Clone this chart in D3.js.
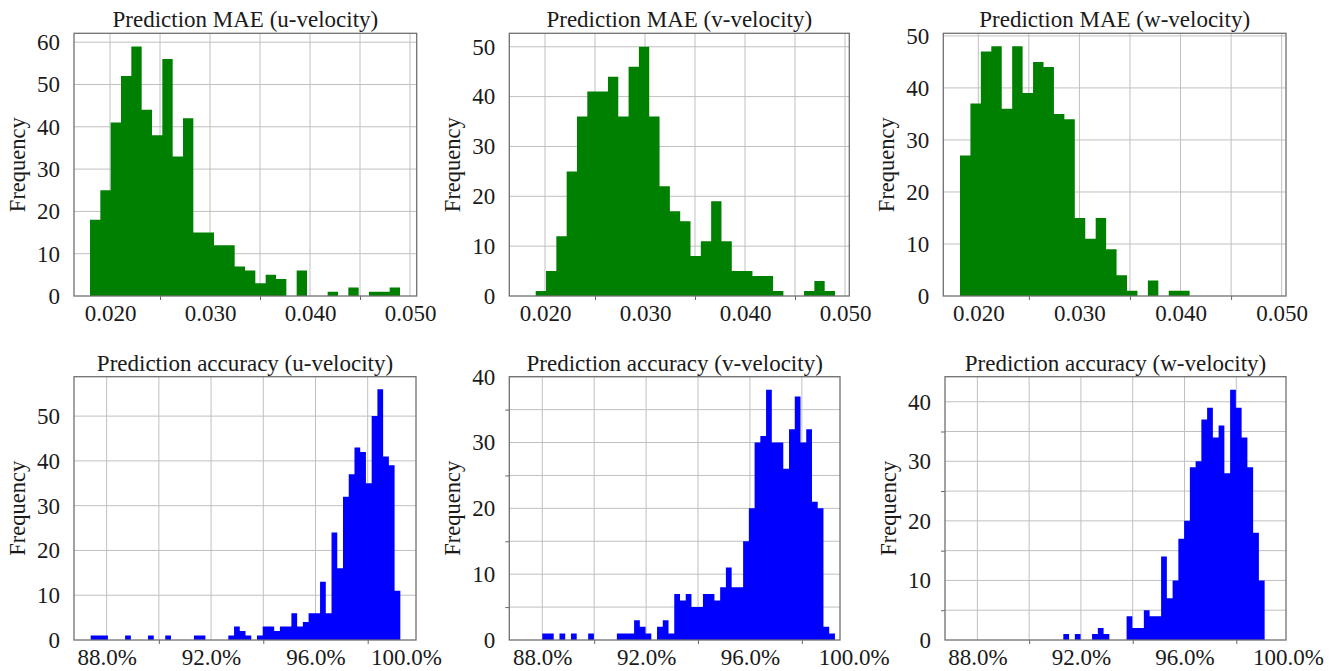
<!DOCTYPE html>
<html>
<head>
<meta charset="utf-8">
<script src="https://cdn.jsdelivr.net/npm/d3@7/dist/d3.min.js"></script>
<style>
  body { margin: 0; background: #fff; }
  text { font-family: "Liberation Serif", "Times New Roman", serif; fill: #1a1a1a; }
</style>
</head>
<body>
<svg id="chart" width="1340" height="671"></svg>
<script>
// Histogram counts (one value per bin)
const maeU = [18, 25, 41, 52, 59, 44, 38, 56, 33, 42, 15, 15, 12, 12, 7, 6, 3, 5, 4, 0, 6, 0, 0, 1, 0, 2, 0, 1, 1, 2];
const maeV = [1, 5, 12, 25, 36, 41, 41, 44, 36, 46, 50, 36, 22, 17, 15, 8, 11, 19, 11, 5, 5, 4, 4, 1, 0, 0, 1, 3, 1];
const maeW = [27, 37, 47, 48, 36, 48, 39, 45, 44, 35, 34, 15, 11, 15, 9, 4, 1, 0, 3, 0, 1, 1];
const accU = [1, 1, 1, 0, 0, 0, 1, 0, 0, 0, 1, 0, 0, 1, 0, 0, 0, 0, 1, 1, 0, 0, 0, 0, 1, 3, 2, 1, 0, 1,
              3, 3, 2, 3, 3, 6, 3, 4, 6, 6, 13, 6, 24, 16, 32, 37, 43, 42, 35, 50, 56, 41, 39, 11];
const accV = [1, 1, 0, 1, 0, 1, 0, 0, 1, 0, 0, 0, 0, 1, 1, 1, 3, 2, 1, 0, 2, 3, 1, 7, 6, 7, 5, 5, 7, 7,
              6, 8, 11, 8, 8, 15, 20, 30, 31, 38, 30, 30, 26, 32, 37, 30, 32, 21, 20, 2, 1];
const accW = [1, 0, 1, 0, 0, 1, 2, 1, 0, 0, 0, 4, 2, 2, 5, 4, 4, 14, 7, 10, 17, 20, 29, 30, 37, 39, 34, 36, 28, 42,
              39, 34, 29, 18, 10];

// first and last bin edge of each histogram
const maeUBins = [0.0180, 0.0490];
const maeVBins = [0.01907, 0.0490];
const maeWBins = [0.01819, 0.0409];
const accUBins = [87.39, 99.25];
const accVBins = [88.0, 99.275];
const accWBins = [91.32, 99.095];

// tick labels and grid positions
const maeTicks = [0.020, 0.030, 0.040, 0.050];
const maeGrid = [0.020, 0.025, 0.030, 0.035, 0.040, 0.045, 0.050];
const accTicks = [88, 92, 96, 100];
const accGrid = [88, 90, 92, 94, 96, 98, 100];
const yTicks60 = [0, 10, 20, 30, 40, 50, 60];
const yTicks50 = [0, 10, 20, 30, 40, 50];
const yTicks40 = [0, 10, 20, 30, 40];
const yFives = [5, 15, 25, 35];

const fmtMae = d3.format(".3f");
const fmtAcc = d => d.toFixed(1) + "%";

const GREEN = "#008000", BLUE = "#0000ff";

// layout of each panel: frame box [left, top, right, bottom], axis limits
const panels = [
  { title: "Prediction MAE (u-velocity)", counts: maeU, bins: maeUBins, box: [74, 33.3, 416.7, 296],
    xDom: [0.0164, 0.05067], yMax: 62.1, xTicks: maeTicks, xGrid: maeGrid, yTicks: yTicks60, yMinor: [], fmt: fmtMae, color: GREEN },
  { title: "Prediction MAE (v-velocity)", counts: maeV, bins: maeVBins, box: [509.3, 33.3, 849.3, 296],
    xDom: [0.01643, 0.05043], yMax: 52.7, xTicks: maeTicks, xGrid: maeGrid, yTicks: yTicks50, yMinor: [], fmt: fmtMae, color: GREEN },
  { title: "Prediction MAE (w-velocity)", counts: maeW, bins: maeWBins, box: [943.3, 33.3, 1286, 296],
    xDom: [0.01654, 0.05043], yMax: 50.5, xTicks: maeTicks, xGrid: maeGrid, yTicks: yTicks50, yMinor: [], fmt: fmtMae, color: GREEN },
  { title: "Prediction accuracy (u-velocity)", counts: accU, bins: accUBins, box: [74, 376.7, 416, 640],
    xDom: [86.75, 99.85], yMax: 58.8, xTicks: accTicks, xGrid: accGrid, yTicks: yTicks50, yMinor: [], fmt: fmtAcc, color: BLUE, lastDx: -14 },
  { title: "Prediction accuracy (v-velocity)", counts: accV, bins: accVBins, box: [509.3, 376.7, 840, 640],
    xDom: [86.73, 99.47], yMax: 40.0, xTicks: accTicks, xGrid: accGrid, yTicks: yTicks40, yMinor: yFives, fmt: fmtAcc, color: BLUE },
  { title: "Prediction accuracy (w-velocity)", counts: accW, bins: accWBins, box: [945, 376.7, 1286, 640],
    xDom: [86.75, 99.92], yMax: 44.2, xTicks: accTicks, xGrid: accGrid, yTicks: yTicks40, yMinor: yFives, fmt: fmtAcc, color: BLUE }
];

const svg = d3.select("#chart");

function drawHist(p) {
  const [left, top, right, bottom] = p.box;
  const w = right - left, h = bottom - top;
  const g = svg.append("g").attr("transform", `translate(${left},${top})`);

  const x = d3.scaleLinear().domain(p.xDom).range([0, w]);
  const y = d3.scaleLinear().domain([0, p.yMax]).range([h, 0]);

  const inX = v => v >= p.xDom[0] && v <= p.xDom[1];

  // grid lines
  const yGridVals = p.yTicks.concat(p.yMinor).filter(v => v > 0 && v <= p.yMax);
  g.append("g").attr("class", "grid")
    .selectAll("line.gx").data(p.xGrid.filter(inX)).join("line")
    .attr("x1", d => x(d)).attr("x2", d => x(d))
    .attr("y1", 0).attr("y2", h);
  g.append("g").attr("class", "grid")
    .selectAll("line.gy").data(yGridVals).join("line")
    .attr("x1", 0).attr("x2", w)
    .attr("y1", d => y(d)).attr("y2", d => y(d));
  g.selectAll(".grid line").attr("stroke", "#c0c0c0").attr("stroke-width", 1);

  // bars, drawn as one stepped shape so no seams show between bins
  const n = p.counts.length;
  const step = (p.bins[1] - p.bins[0]) / n;
  const bins = p.counts.map((c, i) => ({ x0: p.bins[0] + i * step, c }));
  bins.push({ x0: p.bins[1], c: p.counts[n - 1] });
  const area = d3.area()
    .curve(d3.curveStepAfter)
    .x(d => x(d.x0))
    .y0(h)
    .y1(d => y(d.c));
  g.append("path").datum(bins)
    .attr("d", area)
    .attr("fill", p.color);

  // minor tick marks
  const xMinor = p.xGrid.filter(v => inX(v) && !p.xTicks.includes(v));
  g.append("g").attr("transform", `translate(0,${h})`)
    .call(d3.axisBottom(x).tickValues(xMinor).tickSize(4).tickFormat(""))
    .call(a => a.select(".domain").remove())
    .selectAll("line").attr("stroke", "#666");
  if (p.yMinor.length) {
    g.append("g")
      .call(d3.axisLeft(y).tickValues(p.yMinor).tickSize(4).tickFormat(""))
      .call(a => a.select(".domain").remove())
      .selectAll("line").attr("stroke", "#666");
  }

  // frame
  g.append("rect").attr("width", w).attr("height", h)
    .attr("fill", "none").attr("stroke", "#707070").attr("stroke-width", 1.3);

  // tick labels
  const xa = g.append("g").attr("transform", `translate(0,${h})`)
    .call(d3.axisBottom(x).tickValues(p.xTicks).tickFormat(p.fmt).tickSize(0).tickPadding(9))
    .call(a => a.select(".domain").remove())
    .attr("font-family", null).attr("font-size", null);
  xa.selectAll("text").style("font-size", "23px");
  if (p.lastDx) xa.selectAll(".tick:last-of-type text").attr("dx", p.lastDx);

  const ya = g.append("g")
    .call(d3.axisLeft(y).tickValues(p.yTicks).tickFormat(d3.format("d")).tickSize(0).tickPadding(14))
    .call(a => a.select(".domain").remove())
    .attr("font-family", null).attr("font-size", null);
  ya.selectAll("text").style("font-size", "23px");

  // title and axis label
  g.append("text")
    .attr("x", w / 2).attr("y", -6)
    .attr("text-anchor", "middle")
    .style("font-size", "23px")
    .text(p.title);

  g.append("text")
    .attr("transform", `translate(-57,${h / 2}) rotate(-90)`)
    .attr("text-anchor", "middle")
    .attr("dominant-baseline", "central")
    .style("font-size", "22.5px")
    .text("Frequency");
}

panels.forEach(drawHist);
</script>
</body>
</html>
